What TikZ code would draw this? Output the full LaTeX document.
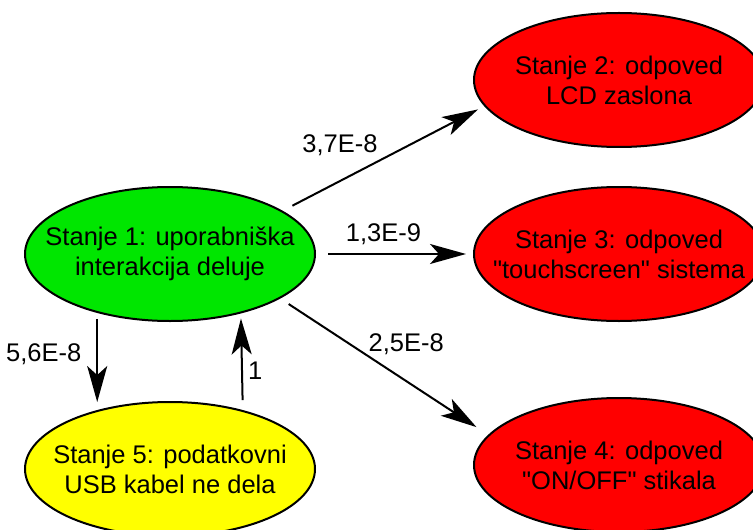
\documentclass[tikz,border=0pt]{standalone}
\usepackage{fontspec}
\setmainfont{Liberation Sans}
\usepackage{tikz}
\usetikzlibrary{
        arrows.meta,
        positioning,
        shapes.geometric
    }
\definecolor{stategreen}{RGB}{0,230,0}
\definecolor{statered}{RGB}{255,0,0}
\definecolor{stateyellow}{RGB}{255,255,0}
\tikzset{>={Stealth[length=18pt,width=10pt,inset=4.5pt]}}
\tikzset{state/.style={ellipse,draw,minimum width=145pt,minimum height=67pt,inner xsep=-12pt,align=center}}
\tikzset{rate/.style={inner sep=1.5pt}}

\begin{document}
\begin{tikzpicture}[x=0.5pt,y=-0.5pt,line width=1pt,font=\fontsize{12.75}{15}\selectfont]
                \useasboundingbox (0,0) rectangle (753,529);
                \clip (0,0) rectangle (753,529);
                \node[state,fill=stategreen] (s1) at (170,254) {Stanje 1: uporabniška\\interakcija deluje};
                \node[state,fill=stateyellow] (s5) [below=39.5pt of s1] {Stanje 5: podatkovni\\USB kabel ne dela};
                \node[state,fill=statered] (s3) [right=78.5pt of s1] {Stanje 3: odpoved\\\textquotedbl touchscreen\textquotedbl{} sistema};
                \node[state,fill=statered] (s2) [above=19pt of s3] {Stanje 2: odpoved\\LCD zaslona};
                \node[state,fill=statered] (s4) [below=37.5pt of s3] {Stanje 4: odpoved\\\textquotedbl ON/OFF\textquotedbl{} stikala};
                \draw[->,shorten <=5.5pt,shorten >=3.5pt] (s1.21) -- node[rate,pos=0.49,anchor=south east] {3,7E-8} (s2.191);
                \draw[->,shorten <=6pt,shorten >=3.5pt] (s1.east) -- node[rate,pos=0.43,anchor=south,inner ysep=4pt] {1,3E-9} (s3.west);
                \draw[->,shorten <=5pt,shorten >=7pt] (s1.-22.5) -- node[rate,pos=0.42,anchor=south west,inner sep=0pt] {2,5E-8} (s4.167.6);
                \draw[->,shorten <=3pt,shorten >=4pt] (s1.219.4) -- node[rate,pos=0.42,left=6pt] {5,6E-8} (s5.141.4);
                \draw[->,shorten <=5pt,shorten >=2.5pt] (s5.39.1) -- node[rate,pos=0.41,right=1pt] {1} (s1.-40);
            \end{tikzpicture}
\end{document}
